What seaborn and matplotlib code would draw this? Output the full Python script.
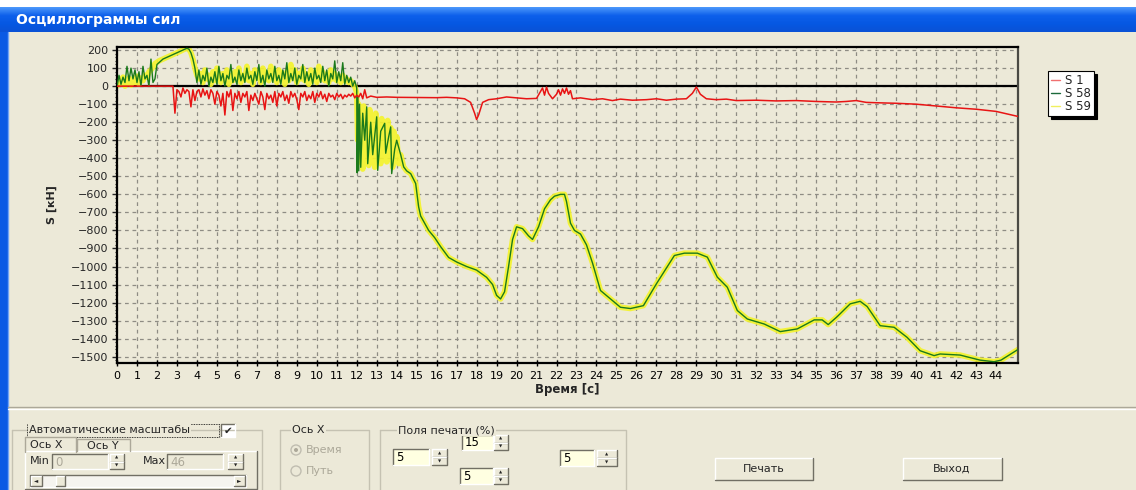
import numpy as np
import pandas as pd
import seaborn as sns
import matplotlib.pyplot as plt
from matplotlib.colors import LinearSegmentedColormap
from matplotlib.lines import Line2D
from matplotlib.patches import Rectangle, Ellipse
from matplotlib.ticker import MultipleLocator


# DATA (time in s, force in kN)

# S 1 (red)
s1_head_t = [0.0, 2.8]
s1_head_v = [0, 0]
s1_noise_t0, s1_noise_dt = 2.9, 0.1
s1_noise_v = [-150, -20, -30, -60, -10, -40, -20, -30, -115, -20,
              -80, -30, -20, -60, -15, -50, -25, -70, -20, -40,
              -100, -30, -50, -110, -40, -160, -30, -60, -20, -135,
              -40, -70, -30, -90, -40, -60, -30, -135, -50, -80,
              -40, -70, -100, -30, -60, -130, -40, -70, -50, -90,
              -30, -110, -40, -60, -30, -80, -50, -95, -30, -60,
              -40, -75, -130, -40, -60, -30, -80, -50, -70, -30,
              -90, -40, -60, -30, -70, -45, -85, -40, -60, -50,
              -75, -40, -60, -45, -70, -50, -60, -45, -55, -40,
              -65, -50]
s1_tail_t = [12.1, 12.2, 12.3, 12.4, 12.5, 12.7, 13.0, 13.5, 14.0, 15.0,
             16.0, 16.5, 17.0, 17.4, 17.7, 17.9, 18.0, 18.1, 18.3, 18.6,
             19.0, 19.5, 20.0, 20.5, 21.0, 21.2, 21.3, 21.4, 21.5, 21.6,
             21.8, 22.0, 22.1, 22.2, 22.3, 22.4, 22.5, 22.6, 22.7, 22.8,
             23.2, 23.8, 24.3, 24.8, 25.2, 25.8, 26.5, 27.0, 27.5, 28.0,
             28.5, 28.8, 29.0, 29.2, 29.5, 30.0, 30.5, 31.0, 32.0, 33.0,
             34.0, 35.0, 36.0, 36.5, 37.0, 37.5, 38.0, 39.0, 40.0, 41.0,
             42.0, 43.0, 44.0, 45.1]
s1_tail_v = [-60, -40, -70, -20, -65, -55, -62, -60, -62, -63,
             -64, -62, -65, -70, -90, -150, -185, -160, -90, -75,
             -70, -60, -65, -70, -68, -30, -10, -50, -5, -40,
             -70, -45, -20, -50, -15, -40, -10, -45, -25, -70,
             -65, -75, -70, -80, -72, -78, -75, -70, -78, -72,
             -70, -40, -5, -45, -70, -75, -72, -80, -78, -82,
             -80, -85, -88, -85, -80, -90, -92, -95, -100, -110,
             -120, -128, -140, -168]

# S 58 (dark green)
s58_noise1_t0, s58_noise1_dt = 0.0, 0.1
s58_noise1_v = [0, 60, 10, 50, 20, 110, 30, 100, 40, 90,
                20, 80, 0, 110, 40, 60, 0, 150, 20, 40]
s58_rise_t = [2.0, 2.3, 2.6, 2.9, 3.2, 3.5, 3.6, 3.7, 3.8, 3.9]
s58_rise_v = [120, 150, 165, 180, 195, 210, 205, 185, 150, 100]
s58_noise2_t0, s58_noise2_dt = 4.0, 0.1
s58_noise2_v = [20, 90, 10, 60, 30, 100, 0, 50, 20, 80,
                10, 110, 30, 70, 0, 60, 40, 120, 20, 50,
                10, 90, 30, 70, 20, 100, 40, 60, 10, 80,
                30, 120, 20, 60, 0, 90, 40, 70, 20, 110,
                30, 60, 10, 90, 40, 130, 20, 70, 30, 100,
                10, 60, 40, 120, 20, 80, 30, 70, 10, 100,
                40, 60, 20, 110, 30, 90, 0, 70, 40, 140,
                20, 80, 30, 130, 10, 60, 20, 50, 0, 30]
s58_drop_t = [12.0, 12.02, 12.06, 12.1, 12.14, 12.2, 12.3, 12.4, 12.5, 12.55,
              12.7, 12.8, 13.0, 13.05, 13.2, 13.4, 13.45, 13.6, 13.7, 13.75,
              13.9, 14.0]
s58_drop_v = [-10, -480, -60, -470, -100, -450, -150, -300, -115, -430,
              -200, -380, -170, -467, -250, -206, -372, -280, -226, -485,
              -350, -300]

# S 59 (yellow)
s59_noise1_t0, s59_noise1_dt = 0.0, 0.1
s59_noise1_v = [0, 40, 10, 50, 0, 30, 45, 5, 40, 20, 55, 10, 45, 30, 60, 50, 80]
s59_rise_t = [1.7, 1.8, 1.9, 2.1, 2.3, 2.6, 2.9, 3.2, 3.5, 3.6, 3.7, 3.8, 3.9, 4.0, 4.1]
s59_rise_v = [90, 105, 125, 140, 150, 165, 180, 195, 212, 205, 185, 150, 100, 60, 40]
s59_noise2_t0, s59_noise2_dt = 4.2, 0.1
s59_noise2_v = [70, 20, 90, 40, 60, 10, 80, 30, 100, 50,
                20, 70, 40, 90, 10, 60, 30, 80, 50, 100,
                20, 60, 40, 110, 30, 70, 10, 90, 50, 80,
                20, 100, 40, 60, 30, 110, 50, 70, 20, 90,
                40, 60, 10, 80, 30, 120, 60, 90, 20, 70,
                40, 100, 30, 60, 10, 90, 50, 70, 20, 110,
                40, 80, 30, 60, 20, 90, 40, 70, 30, 50,
                20, 60, 30, 40, 20, 30, 10, 0]
s59_drop_t = [12.0, 12.05, 12.1, 12.15, 12.2, 12.3, 12.35, 12.45, 12.5, 12.6,
              12.65, 12.75, 12.8, 12.9, 12.95, 13.05, 13.1, 13.2, 13.25, 13.35,
              13.4, 13.5, 13.55, 13.65, 13.7, 13.8, 13.85, 13.95, 14.0, 14.1]
s59_drop_v = [-40, -300, -100, -420, -120, -460, -110, -400, -160, -440,
              -130, -420, -180, -450, -150, -400, -200, -430, -180, -380,
              -200, -420, -190, -360, -230, -450, -250, -400, -280, -430]

# smooth part shared by S 58 and S 59 (the two traces overlap there)
tail_t = [14.2, 14.35, 14.5, 14.7, 14.95, 15.1, 15.2, 15.4, 15.6, 15.9,
          16.2, 16.6, 17.0, 17.5, 18.0, 18.5, 18.8, 19.0, 19.2, 19.4,
          19.6, 19.8, 20.0, 20.3, 20.6, 20.8, 21.1, 21.4, 21.7, 21.9,
          22.2, 22.4, 22.5, 22.7, 22.9, 23.2, 23.5, 23.8, 24.2, 24.5,
          25.2, 25.7, 26.35, 27.0, 27.9, 28.4, 29.05, 29.55, 30.05, 30.55,
          31.05, 31.55, 32.4, 33.2, 34.05, 34.9, 35.3, 35.6, 36.05, 36.7,
          37.2, 37.55, 38.2, 38.9, 39.55, 40.2, 40.9, 41.2, 42.2, 43.2,
          43.9, 44.25, 45.0, 45.1]
tail_v = [-380, -448, -470, -485, -540, -670, -720, -760, -800, -840,
          -890, -950, -975, -1000, -1020, -1060, -1100, -1160, -1180, -1140,
          -1000, -850, -780, -790, -830, -850, -780, -680, -630, -610,
          -600, -600, -640, -760, -800, -820, -880, -980, -1133, -1161,
          -1226, -1233, -1217, -1096, -939, -926, -926, -948, -1059, -1115,
          -1244, -1291, -1319, -1361, -1346, -1296, -1296, -1322, -1278, -1207,
          -1193, -1222, -1328, -1337, -1393, -1467, -1494, -1485, -1491, -1519,
          -1528, -1519, -1467, -1460]

x_ticks = list(range(0, 45))
y_ticks = list(range(-1500, 201, 100))
series_names = ['S 1', 'S 58', 'S 59']
series_colors = ['#E81414', '#1B7A1B', '#F4F42A']


def sampled(t0, dt, values):
    return list(t0 + dt * np.arange(len(values)))


def build_series():
    s1 = pd.DataFrame({
        't': s1_head_t + sampled(s1_noise_t0, s1_noise_dt, s1_noise_v) + s1_tail_t,
        'v': s1_head_v + s1_noise_v + s1_tail_v})
    s58 = pd.DataFrame({
        't': (sampled(s58_noise1_t0, s58_noise1_dt, s58_noise1_v) + s58_rise_t
              + sampled(s58_noise2_t0, s58_noise2_dt, s58_noise2_v) + s58_drop_t + tail_t),
        'v': s58_noise1_v + s58_rise_v + s58_noise2_v + s58_drop_v + tail_v})
    s59 = pd.DataFrame({
        't': (sampled(s59_noise1_t0, s59_noise1_dt, s59_noise1_v) + s59_rise_t
              + sampled(s59_noise2_t0, s59_noise2_dt, s59_noise2_v) + s59_drop_t + tail_t),
        'v': s59_noise1_v + s59_rise_v + s59_noise2_v + s59_drop_v + tail_v})
    return s1, s58, s59


# FIGURE / WINDOW CHROME

W, H = 1136, 490
BG = '#ECE9D8'

sns.set_theme(style='ticks')
plt.rcParams['font.family'] = ['DejaVu Sans']

fig = plt.figure(figsize=(W / 100, H / 100), dpi=100, facecolor=BG)


def px_box(x0, y0, x1, y1, **kw):
    fig.add_artist(Rectangle((x0 / W, 1 - y1 / H), (x1 - x0) / W, (y1 - y0) / H,
                             transform=fig.transFigure, **kw))


def px_line(xs, ys, **kw):
    fig.add_artist(Line2D([x / W for x in xs], [1 - y / H for y in ys],
                          transform=fig.transFigure, **kw))


def px_text(x, y, s, **kw):
    kw.setdefault('fontsize', 8)
    kw.setdefault('va', 'center')
    return fig.text(x / W, 1 - y / H, s, **kw)


def raised(x0, y0, x1, y1, face=BG):
    px_box(x0, y0, x1, y1, facecolor=face, edgecolor='none')
    px_line([x0, x0, x1], [y1, y0, y0], color='white', lw=1)
    px_line([x0, x1, x1], [y1, y1, y0], color='#716F64', lw=1)


def sunken(x0, y0, x1, y1, face='white'):
    px_box(x0, y0, x1, y1, facecolor=face, edgecolor='none')
    px_line([x0, x0, x1], [y1, y0, y0], color='#716F64', lw=1)
    px_line([x0, x1, x1], [y1, y1, y0], color='white', lw=1)


def spin(x0, y0, x1, y1):
    ym = (y0 + y1) / 2
    raised(x0, y0, x1, ym)
    raised(x0, ym, x1, y1)
    px_text((x0 + x1) / 2, (y0 + ym) / 2, '\u25b2', fontsize=3, ha='center')
    px_text((x0 + x1) / 2, (ym + y1) / 2, '\u25bc', fontsize=3, ha='center')


def field(x0, y0, x1, y1, s, face='#FFFFE1', color='black'):
    sunken(x0, y0, x1, y1, face)
    px_text(x0 + 3, (y0 + y1) / 2 + 0.5, s, color=color, fontsize=8.5)


def group(x0, y0, x1, y1, title, tx):
    px_line([x0, x1, x1, x0, x0], [y0, y0, y1, y1, y0], color='#C5C2B2', lw=1)
    px_text(tx, y0, title, bbox=dict(facecolor=BG, edgecolor='none', pad=1.0))


def radio(x, y, on):
    fig.add_artist(Ellipse((x / W, 1 - y / H), 10 / W, 10 / H, transform=fig.transFigure,
                           facecolor=BG, edgecolor='#C0BDB0', lw=1))
    if on:
        fig.add_artist(Ellipse((x / W, 1 - y / H), 4 / W, 4 / H, transform=fig.transFigure,
                               facecolor='#ACA899', edgecolor='none'))


def draw_chrome():
    px_box(0, 0, W, 7, facecolor='white', edgecolor='none')
    bar = fig.add_axes([0, 1 - 32 / H, 1, 25 / H])
    bar.axis('off')
    cmap = LinearSegmentedColormap.from_list('xp', ['#4A96FA', '#0E60EB', '#0558E3', '#0A52D6'])
    bar.imshow(np.linspace(0, 1, 25)[:, None], aspect='auto', cmap=cmap, extent=[0, 1, 0, 1])
    px_text(16, 20, 'Осциллограммы сил', color='white', fontsize=10, fontweight='bold')
    px_box(0, 32, 8, H, facecolor='#0A5AE4', edgecolor='none')
    px_line([8, 8], [32, H], color='#6FA3F7', lw=1)

    px_line([8, W], [407, 407], color='#ACA899', lw=1)
    px_line([8, W], [408.5, 408.5], color='white', lw=1)

    # auto scale block
    group(12, 430, 262, 496, 'Автоматические масштабы', 29)
    px_line([27, 219, 219, 27, 27], [424, 424, 437, 437, 424], color='black', lw=0.6, ls=(0, (1, 1)))
    sunken(221, 424, 235, 437, 'white')
    px_text(228, 430.5, '\u2714', fontsize=7.5, ha='center')
    raised(25, 451, 257, 489)
    px_box(26, 437, 76, 452, facecolor=BG, edgecolor='none')
    px_line([25, 25, 76, 76], [452, 437, 437, 452], color='#ACA899', lw=1)
    px_line([77, 77, 130, 130], [451, 439, 439, 451], color='#ACA899', lw=1)
    px_text(30, 445, 'Ось X')
    px_text(87, 445.5, 'Ось Y')
    px_text(30, 461, 'Min')
    field(52, 454, 108, 469, '0', face=BG, color='#ACA899')
    spin(110, 454, 124, 469)
    px_text(143, 461, 'Max')
    field(167, 454, 223, 469, '46', face=BG, color='#ACA899')
    spin(228, 454, 243, 469)
    sunken(30, 475, 246, 487, '#F5F4EF')
    raised(31, 476, 42, 486)
    raised(234, 476, 245, 486)
    raised(56, 476, 65, 486)
    px_text(36.5, 481, '\u25c4', fontsize=4, ha='center')
    px_text(239.5, 481, '\u25ba', fontsize=4, ha='center')

    # axis choice block
    group(280, 430, 369, 496, 'Ось X', 292)
    radio(296, 450, True)
    radio(296, 471, False)
    px_text(306, 450, 'Время', color='#ACA899')
    px_text(306, 471, 'Путь', color='#ACA899')

    # print margins block
    group(380, 430, 626, 496, 'Поля печати (%)', 398)
    field(462, 435, 493, 450, '15')
    spin(494, 435, 508, 450)
    field(393, 449, 429, 465, '5')
    spin(432, 449, 447, 465)
    field(460, 468, 493, 484, '5')
    spin(494, 468, 508, 484)
    field(560, 450, 594, 466, '5')
    spin(597, 450, 617, 466)

    raised(715, 458, 813, 480)
    px_text(764, 469, 'Печать', ha='center')
    raised(903, 458, 1002, 480)
    px_text(952, 469, 'Выход', ha='center')


# PLOT

def plot_oscillograms(s1, s58, s59):
    ax = fig.add_axes([117 / W, 1 - 363 / H, 901 / W, 316 / H])
    ax.set_facecolor(BG)
    ax.set_axisbelow(True)
    ax.grid(True, color='#8E8C84', linestyle=(0, (3, 3)), linewidth=0.9)
    ax.axhline(0, color='black', lw=1.6, zorder=1.5)

    sns.lineplot(data=s59, x='t', y='v', ax=ax, sort=False, estimator=None,
                 color=series_colors[2], linewidth=4.0, alpha=0.9, zorder=2)
    sns.lineplot(data=s58, x='t', y='v', ax=ax, sort=False, estimator=None,
                 color=series_colors[1], linewidth=1.0, zorder=3)
    sns.lineplot(data=s1, x='t', y='v', ax=ax, sort=False, estimator=None,
                 color=series_colors[0], linewidth=1.1, zorder=4)

    ax.set_xlim(0, 45.1)
    ax.set_ylim(-1535, 217)
    ax.set_xticks(x_ticks)
    ax.set_xticklabels([str(v) for v in x_ticks])
    ax.set_yticks(y_ticks)
    ax.yaxis.set_minor_locator(MultipleLocator(20))
    ax.tick_params(axis='x', direction='inout', length=5, width=1, labelsize=8, pad=3.5, colors='black')
    ax.tick_params(axis='y', which='major', direction='out', length=3.5, width=1, labelsize=8, pad=3)
    ax.tick_params(axis='y', which='minor', direction='out', length=1.5, width=0.8)
    ax.set_xlabel('')
    ax.set_ylabel('')
    for side in ['left', 'bottom', 'top']:
        ax.spines[side].set_color('black')
        ax.spines[side].set_linewidth(1.6)
    ax.spines['right'].set_color('#4A4A44')
    ax.spines['right'].set_linewidth(1.6)

    handles = [Line2D([], [], color=c, lw=1) for c in ['#F07070', '#1B6A3B', '#F0F060']]
    leg = ax.legend(handles, series_names, loc='upper left',
                    bbox_to_anchor=(1048 / W, 1 - 71 / H), bbox_transform=fig.transFigure,
                    fontsize=8.5, handlelength=0.8, handletextpad=0.4, labelspacing=0.0,
                    borderpad=0.25, borderaxespad=0, fancybox=False, framealpha=1,
                    edgecolor='black', facecolor='white',
                    shadow={'color': 'black', 'alpha': 1})
    leg.get_frame().set_linewidth(0.8)

    fig.text(52 / W, 1 - 205 / H, 'S [кН]', rotation=90, fontsize=8, fontweight='bold',
             ha='center', va='center')
    fig.text(567 / W, 1 - 389 / H, 'Время [с]', fontsize=8.5, fontweight='bold',
             ha='center', va='center')
    return ax


if __name__ == "__main__":
    s1, s58, s59 = build_series()
    draw_chrome()
    plot_oscillograms(s1, s58, s59)
    fig.savefig('out.png', dpi=100, facecolor=BG)
